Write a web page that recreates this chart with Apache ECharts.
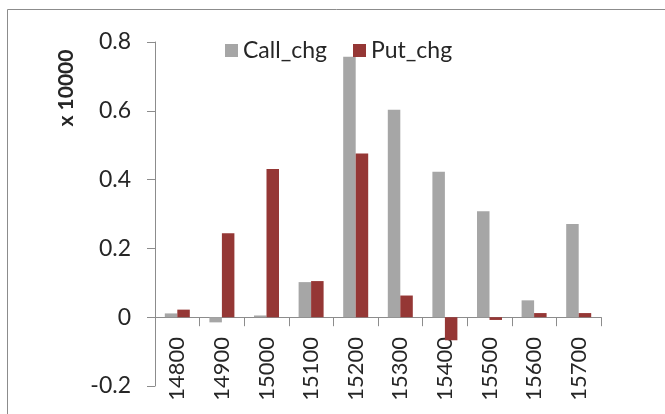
<!DOCTYPE html>
<html>
<head>
<meta charset="utf-8">
<title>Call / Put chg</title>
<script src="https://cdn.jsdelivr.net/npm/echarts@6/dist/echarts.min.js"></script>
<style>
  html, body { margin: 0; padding: 0; background: #fff; }
  #myChart { width: 665px; height: 414px; }
</style>
</head>
<body>
<div id="myChart"></div>
<script>
// 行权价
var strikes = ["14800", "14900", "15000", "15100", "15200", "15300", "15400", "15500", "15600", "15700"];
// x 10000
var callChg = [0.011, -0.015, 0.005, 0.102, 0.757, 0.603, 0.423, 0.308, 0.049, 0.271];
var putChg = [0.022, 0.244, 0.431, 0.105, 0.476, 0.063, -0.067, -0.008, 0.012, 0.012];
var yTicks = { min: -0.2, max: 0.8, interval: 0.2 };

var axisColor = "#8c8c8c";
var textColor = "#262626";
var font = "Lato, 'Open Sans', sans-serif";

var myChart = echarts.init(document.getElementById("myChart"));
myChart.setOption({
  backgroundColor: "#fff",
  animation: false,
  color: ["#a6a6a6", "#953735"],
  textStyle: { fontFamily: font },
  legend: {
    data: ["Call_chg", "Put_chg"],
    left: 220,
    top: 34,
    icon: "rect",
    itemWidth: 13,
    itemHeight: 13,
    itemGap: 26,
    textStyle: { color: textColor, fontSize: 23, fontFamily: font }
  },
  grid: {
    left: 155,
    right: 64,
    top: 42,
    bottom: 28,
    containLabel: false,
    outerBoundsMode: "none"
  },
  xAxis: {
    type: "category",
    data: strikes,
    axisLine: { onZero: true, lineStyle: { color: axisColor } },
    axisTick: { show: true, length: 9, lineStyle: { color: axisColor } },
    axisLabel: {
      rotate: 90,
      // 标签跟着网格底边走，往上挪到0线下面
      margin: -49,
      color: textColor,
      fontSize: 22,
      fontFamily: font
    },
    splitLine: { show: false }
  },
  yAxis: {
    type: "value",
    min: yTicks.min,
    max: yTicks.max,
    interval: yTicks.interval,
    axisLine: { show: true, lineStyle: { color: axisColor } },
    axisTick: { show: true, length: 8, lineStyle: { color: axisColor } },
    axisLabel: {
      margin: 24,
      color: textColor,
      fontSize: 23,
      fontFamily: font,
      formatter: function (v) {
        return String(Math.round(v * 10) / 10);
      }
    },
    splitLine: { show: false }
  },
  graphic: [
    {
      // 外框
      type: "rect",
      silent: true,
      shape: { x: 7.5, y: 9.5, width: 800, height: 600 },
      style: { fill: "none", stroke: "#8c8c8c", lineWidth: 1 }
    },
    {
      // y轴单位
      type: "text",
      x: 66,
      y: 88,
      rotation: Math.PI / 2,
      style: {
        text: "x 10000",
        fill: textColor,
        font: "bold 21px " + font,
        textAlign: "center",
        textVerticalAlign: "middle"
      }
    }
  ],
  series: [
    {
      name: "Call_chg",
      type: "bar",
      data: callChg,
      barWidth: 12.5,
      barGap: "0%"
    },
    {
      name: "Put_chg",
      type: "bar",
      data: putChg,
      barWidth: 12.5,
      barGap: "0%"
    }
  ]
});
</script>
</body>
</html>
